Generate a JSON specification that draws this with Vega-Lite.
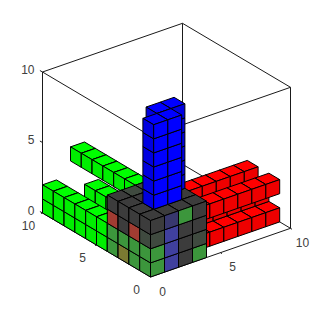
{"$schema":"https://vega.github.io/schema/vega-lite/v6.json","width":321,"height":312,"padding":0,"autosize":{"type":"none"},"background":"white","config":{"view":{"stroke":null}},
"datasets":{
"box":[
{"e":1,"i":0,"a":0,"b":0,"z":0},{"e":1,"i":1,"a":10,"b":0,"z":0},
{"e":2,"i":0,"a":10,"b":0,"z":0},{"e":2,"i":1,"a":10,"b":10,"z":0},
{"e":3,"i":0,"a":10,"b":10,"z":0},{"e":3,"i":1,"a":0,"b":10,"z":0},
{"e":4,"i":0,"a":0,"b":10,"z":0},{"e":4,"i":1,"a":0,"b":0,"z":0},
{"e":5,"i":0,"a":0,"b":0,"z":10},{"e":5,"i":1,"a":10,"b":0,"z":10},
{"e":6,"i":0,"a":10,"b":0,"z":10},{"e":6,"i":1,"a":10,"b":10,"z":10},
{"e":7,"i":0,"a":10,"b":10,"z":10},{"e":7,"i":1,"a":0,"b":10,"z":10},
{"e":8,"i":0,"a":0,"b":10,"z":10},{"e":8,"i":1,"a":0,"b":0,"z":10},
{"e":9,"i":0,"a":0,"b":10,"z":0},{"e":9,"i":1,"a":0,"b":10,"z":10},
{"e":10,"i":0,"a":10,"b":0,"z":0},{"e":10,"i":1,"a":10,"b":0,"z":10},
{"e":11,"i":0,"a":10,"b":10,"z":0},{"e":11,"i":1,"a":10,"b":10,"z":10},
{"e":12,"i":0,"a":0,"b":0,"z":0},{"e":12,"i":1,"a":0,"b":0,"z":10}
],
"voxels":[
{"a":3,"b":9,"z":0,"top":"G","left":"G2","right":"G"},
{"a":3,"b":8,"z":0,"top":"G","left":"G2","right":"G"},
{"a":3,"b":7,"z":0,"top":"G","left":"G2","right":"G"},{"a":9,"b":1,"z":0,"top":"R","left":"R","right":"R2"},{"a":9,"b":2,"z":1,"top":"R","left":"R","right":"R2"},{"a":9,"b":3,"z":2,"top":"R","left":"R","right":"R2"},
{"a":3,"b":6,"z":0,"top":"G","left":"G2","right":"G"},{"a":0,"b":9,"z":0,"top":"G","left":"G2","right":"G"},{"a":8,"b":1,"z":0,"top":"R","left":"R","right":"R2"},{"a":8,"b":2,"z":1,"top":"R","left":"R","right":"R2"},{"a":8,"b":3,"z":2,"top":"R","left":"R","right":"R2"},
{"a":3,"b":5,"z":0,"top":"G","left":"G2","right":"G"},{"a":0,"b":8,"z":0,"top":"G","left":"G2","right":"G"},{"a":0,"b":9,"z":1,"top":"G","left":"G2","right":"G"},{"a":2,"b":9,"z":3,"top":"G","left":"G2","right":"G"},{"a":7,"b":1,"z":0,"top":"R","left":"R","right":"R2"},{"a":7,"b":2,"z":1,"top":"R","left":"R","right":"R2"},{"a":7,"b":3,"z":2,"top":"R","left":"R","right":"R2"},{"a":9,"b":1,"z":2,"top":"R","left":"R","right":"R2"},
{"a":3,"b":4,"z":0,"top":"G","left":"G2","right":"G"},{"a":0,"b":7,"z":0,"top":"G","left":"G2","right":"G"},{"a":0,"b":8,"z":1,"top":"G","left":"G2","right":"G"},{"a":2,"b":8,"z":3,"top":"G","left":"G2","right":"G"},{"a":6,"b":1,"z":0,"top":"R","left":"R","right":"R2"},{"a":6,"b":2,"z":1,"top":"R","left":"R","right":"R2"},{"a":6,"b":3,"z":2,"top":"R","left":"R","right":"R2"},{"a":8,"b":1,"z":2,"top":"R","left":"R","right":"R2"},
{"a":0,"b":6,"z":0,"top":"G","left":"G2","right":"G"},{"a":0,"b":7,"z":1,"top":"G","left":"G2","right":"G"},{"a":2,"b":7,"z":3,"top":"G","left":"G2","right":"G"},{"a":5,"b":1,"z":0,"top":"R","left":"R","right":"R2"},{"a":5,"b":2,"z":1,"top":"R","left":"R","right":"R2"},{"a":5,"b":3,"z":2,"top":"R","left":"R","right":"R2"},{"a":7,"b":1,"z":2,"top":"R","left":"R","right":"R2"},
{"a":0,"b":5,"z":0,"top":"G","left":"G2","right":"G"},{"a":0,"b":6,"z":1,"top":"G","left":"G2","right":"G"},{"a":2,"b":6,"z":3,"top":"G","left":"G2","right":"G"},{"a":4,"b":1,"z":0,"top":"R","left":"R","right":"R2"},{"a":4,"b":2,"z":1,"top":"R","left":"R","right":"R2"},{"a":4,"b":3,"z":2,"top":"R","left":"R","right":"R2"},{"a":6,"b":1,"z":2,"top":"R","left":"R","right":"R2"},
{"a":0,"b":4,"z":0,"top":"G","left":"G2","right":"G"},{"a":0,"b":5,"z":1,"top":"G","left":"G2","right":"G"},{"a":2,"b":5,"z":3,"top":"G","left":"G2","right":"G"},{"a":5,"b":1,"z":2,"top":"R","left":"R","right":"R2"},
{"a":0,"b":4,"z":1,"top":"G","left":"G2","right":"G"},{"a":2,"b":4,"z":3,"top":"G","left":"G2","right":"G"},{"a":4,"b":1,"z":2,"top":"R","left":"R","right":"R2"},{"a":0,"b":3,"z":0,"top":"K","left":"Kg","right":"K"},{"a":3,"b":0,"z":0,"top":"K","left":"K","right":"Kg"},{"a":3,"b":3,"z":3,"top":"Kn","left":"K","right":"K"},
{"a":0,"b":2,"z":0,"top":"K","left":"Ko","right":"K"},{"a":0,"b":3,"z":1,"top":"K","left":"Kg","right":"K"},{"a":2,"b":0,"z":0,"top":"K","left":"K","right":"K"},{"a":3,"b":0,"z":1,"top":"K","left":"K","right":"Kn"},{"a":2,"b":3,"z":3,"top":"Kn","left":"K","right":"K"},{"a":3,"b":2,"z":3,"top":"K","left":"K","right":"K"},
{"a":0,"b":1,"z":0,"top":"K","left":"Kg","right":"K"},{"a":0,"b":2,"z":1,"top":"K","left":"Kg","right":"K"},{"a":0,"b":3,"z":2,"top":"K","left":"Kr","right":"K"},{"a":1,"b":0,"z":0,"top":"K","left":"K","right":"Kb"},{"a":2,"b":0,"z":1,"top":"K","left":"K","right":"K"},{"a":3,"b":0,"z":2,"top":"K","left":"K","right":"K"},{"a":3,"b":1,"z":3,"top":"K","left":"K","right":"K"},{"a":2,"b":2,"z":3,"top":"K","left":"K","right":"K"},{"a":1,"b":3,"z":3,"top":"Kn","left":"K","right":"K"},{"a":3,"b":2,"z":4,"top":"B","left":"B2","right":"B2"},
{"a":0,"b":0,"z":0,"top":"K","left":"Kg","right":"Kg"},{"a":0,"b":1,"z":1,"top":"K","left":"Kg","right":"K"},{"a":0,"b":2,"z":2,"top":"K","left":"K","right":"K"},{"a":0,"b":3,"z":3,"top":"K","left":"K","right":"K"},{"a":1,"b":0,"z":1,"top":"K","left":"K","right":"Kb"},{"a":2,"b":0,"z":2,"top":"K","left":"K","right":"K"},{"a":3,"b":0,"z":3,"top":"K","left":"K","right":"K"},{"a":2,"b":1,"z":3,"top":"K","left":"K","right":"K"},{"a":1,"b":2,"z":3,"top":"K","left":"K","right":"K"},{"a":2,"b":2,"z":4,"top":"B","left":"B2","right":"B"},{"a":3,"b":2,"z":5,"top":"B","left":"B2","right":"B2"},
{"a":0,"b":0,"z":1,"top":"K","left":"Kg","right":"Kg"},{"a":0,"b":1,"z":2,"top":"K","left":"Kr","right":"K"},{"a":0,"b":2,"z":3,"top":"K","left":"K","right":"K"},{"a":1,"b":0,"z":2,"top":"K","left":"K","right":"Kb"},{"a":2,"b":0,"z":3,"top":"K","left":"K","right":"Kg"},{"a":1,"b":1,"z":3,"top":"K","left":"K","right":"K"},{"a":2,"b":1,"z":4,"top":"B","left":"B2","right":"B"},{"a":2,"b":2,"z":5,"top":"B","left":"B2","right":"B"},{"a":3,"b":2,"z":6,"top":"B","left":"B2","right":"B2"},
{"a":0,"b":0,"z":2,"top":"K","left":"Kn","right":"Kn"},{"a":0,"b":1,"z":3,"top":"K","left":"K","right":"K"},{"a":1,"b":0,"z":3,"top":"K","left":"K","right":"Kd"},{"a":1,"b":1,"z":4,"top":"B","left":"B2","right":"B"},{"a":2,"b":1,"z":5,"top":"B","left":"B2","right":"B"},{"a":2,"b":2,"z":6,"top":"B","left":"B2","right":"B"},{"a":3,"b":2,"z":7,"top":"B","left":"B2","right":"B2"},
{"a":0,"b":0,"z":3,"top":"K","left":"K","right":"K"},{"a":1,"b":1,"z":5,"top":"B","left":"B2","right":"B"},{"a":2,"b":1,"z":6,"top":"B","left":"B2","right":"B"},{"a":2,"b":2,"z":7,"top":"B","left":"B2","right":"B"},{"a":3,"b":2,"z":8,"top":"B","left":"B2","right":"B2"},
{"a":1,"b":1,"z":6,"top":"B","left":"B2","right":"B"},{"a":2,"b":1,"z":7,"top":"B","left":"B2","right":"B"},{"a":2,"b":2,"z":8,"top":"B","left":"B2","right":"B"},{"a":3,"b":2,"z":9,"top":"B","left":"B2","right":"B2"},
{"a":1,"b":1,"z":7,"top":"B","left":"B2","right":"B"},{"a":2,"b":1,"z":8,"top":"B","left":"B2","right":"B"},{"a":2,"b":2,"z":9,"top":"B","left":"B2","right":"B"},
{"a":1,"b":1,"z":8,"top":"B","left":"B2","right":"B"},{"a":2,"b":1,"z":9,"top":"B","left":"B2","right":"B"},
{"a":1,"b":1,"z":9,"top":"B","left":"B2","right":"B"}
]},
"layer":[
{"data":{"name":"box"},"transform":[{"calculate":"14*datum.a-10.8*datum.b","as":"sx"},{"calculate":"4.87*datum.a+6.4*datum.b+14.1*datum.z","as":"sy"}],
"mark":{"type":"line","color":"#1a1a1a","strokeWidth":1,"clip":false},
"encoding":{"x":{"field":"sx","type":"quantitative","axis":null,"scale":{"domain":[-150.5,170.5],"nice":false,"zero":false}},"y":{"field":"sy","type":"quantitative","axis":null,"scale":{"domain":[-35,277],"nice":false,"zero":false}},"detail":{"field":"e"},"order":{"field":"i"}}},
{"data":{"values":[{"a":0,"b":10,"z":0},{"a":0,"b":10,"z":5},{"a":0,"b":10,"z":10}]},"transform":[{"calculate":"14*datum.a-10.8*datum.b","as":"sx"},{"calculate":"4.87*datum.a+6.4*datum.b+14.1*datum.z","as":"sy"}],
"mark":{"type":"point","shape":"M0,0L-2.6,-1.5","size":4,"filled":false,"stroke":"#1a1a1a","strokeWidth":1,"opacity":1},
"encoding":{"x":{"field":"sx","type":"quantitative","axis":null},"y":{"field":"sy","type":"quantitative","axis":null}}},
{"data":{"values":[{"a":0,"b":5,"z":0},{"a":0,"b":10,"z":0}]},"transform":[{"calculate":"14*datum.a-10.8*datum.b","as":"sx"},{"calculate":"4.87*datum.a+6.4*datum.b+14.1*datum.z","as":"sy"}],
"mark":{"type":"point","shape":"M0,0L-1.5,0.5","size":4,"filled":false,"stroke":"#1a1a1a","strokeWidth":1,"opacity":1},
"encoding":{"x":{"field":"sx","type":"quantitative","axis":null},"y":{"field":"sy","type":"quantitative","axis":null}}},
{"data":{"values":[{"a":5,"b":0,"z":0},{"a":10,"b":0,"z":0}]},"transform":[{"calculate":"14*datum.a-10.8*datum.b","as":"sx"},{"calculate":"4.87*datum.a+6.4*datum.b+14.1*datum.z","as":"sy"}],
"mark":{"type":"point","shape":"M0,0L1.5,1","size":4,"filled":false,"stroke":"#1a1a1a","strokeWidth":1,"opacity":1},
"encoding":{"x":{"field":"sx","type":"quantitative","axis":null},"y":{"field":"sy","type":"quantitative","axis":null}}},
{"data":{"name":"voxels"},"transform":[{"fold":["top","left","right"],"as":["face","material"]},{"calculate":"14*datum.a-10.8*datum.b","as":"sx"},{"calculate":"4.87*datum.a+6.4*datum.b+14.1*datum.z","as":"sy"}],
"mark":{"type":"point","filled":true,"size":4,"stroke":"#000000","strokeWidth":1,"opacity":1,"strokeJoin":"round"},
"encoding":{"x":{"field":"sx","type":"quantitative","axis":null},"y":{"field":"sy","type":"quantitative","axis":null},
"shape":{"field":"face","type":"nominal","legend":null,"scale":{"domain":["top","left","right"],"range":["M0,-14.1L-10.8,-20.5L3.2,-25.37L14,-18.97Z","M0,0L-10.8,-6.4L-10.8,-20.5L0,-14.1Z","M0,0L14,-4.87L14,-18.97L0,-14.1Z"]}},
"fill":{"field":"material","type":"nominal","legend":null,"scale":{"domain":["G","G2","R","R2","B","B2","K","Kg","Kb","Kd","Kr","Ko","Kn"],"range":["#00ff00","#00ee00","#ff0000","#ee0000","#0000ff","#0000e0","#3c3c3c","#3c963c","#40409e","#38386e","#a03c32","#7a7a32","#3f4a3f"]}}}},
{"data":{"values":[{"a":0,"b":10,"z":0,"t":"0"},{"a":0,"b":10,"z":5,"t":"5"},{"a":0,"b":10,"z":10,"t":"10"}]},"transform":[{"calculate":"14*datum.a-10.8*datum.b","as":"sx"},{"calculate":"4.87*datum.a+6.4*datum.b+14.1*datum.z","as":"sy"}],
"mark":{"type":"text","font":"Liberation Sans","fontSize":12,"color":"#404040","align":"right","baseline":"middle","dx":-8,"dy":-2.5},
"encoding":{"x":{"field":"sx","type":"quantitative","axis":null},"y":{"field":"sy","type":"quantitative","axis":null},"text":{"field":"t"}}},
{"data":{"values":[{"a":0,"b":0,"z":0,"t":"0"},{"a":0,"b":5,"z":0,"t":"5"},{"a":0,"b":10,"z":0,"t":"10"}]},"transform":[{"calculate":"14*datum.a-10.8*datum.b","as":"sx"},{"calculate":"4.87*datum.a+6.4*datum.b+14.1*datum.z","as":"sy"}],
"mark":{"type":"text","font":"Liberation Sans","fontSize":12,"color":"#404040","align":"center","baseline":"middle","dx":-14,"dy":13},
"encoding":{"x":{"field":"sx","type":"quantitative","axis":null},"y":{"field":"sy","type":"quantitative","axis":null},"text":{"field":"t"}}},
{"data":{"values":[{"a":0,"b":0,"z":0,"t":"0"},{"a":5,"b":0,"z":0,"t":"5"},{"a":10,"b":0,"z":0,"t":"10"}]},"transform":[{"calculate":"14*datum.a-10.8*datum.b","as":"sx"},{"calculate":"4.87*datum.a+6.4*datum.b+14.1*datum.z","as":"sy"}],
"mark":{"type":"text","font":"Liberation Sans","fontSize":12,"color":"#404040","align":"center","baseline":"middle","dx":12,"dy":14.5},
"encoding":{"x":{"field":"sx","type":"quantitative","axis":null},"y":{"field":"sy","type":"quantitative","axis":null},"text":{"field":"t"}}}
]}
